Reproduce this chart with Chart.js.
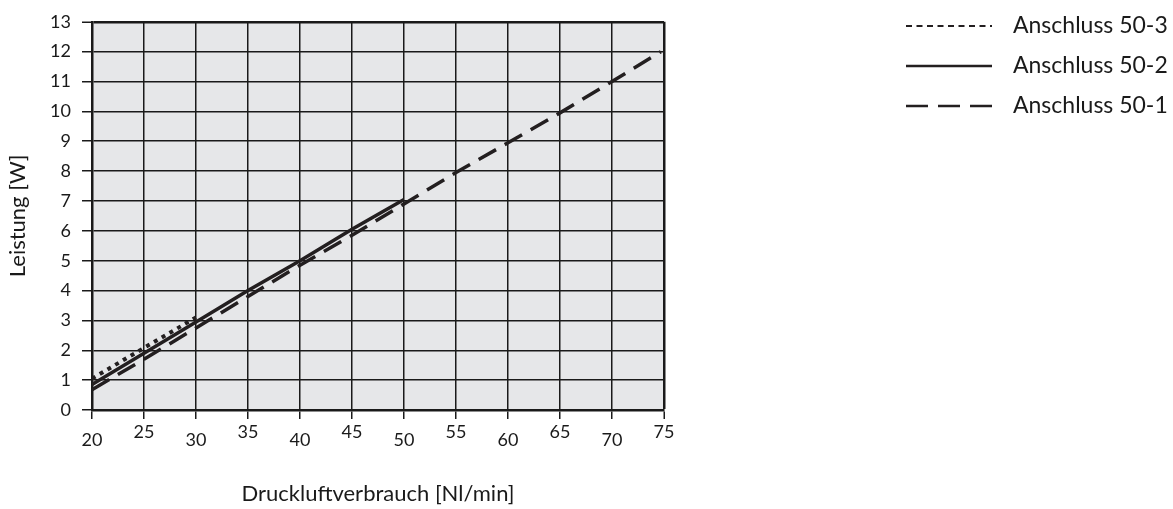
<!DOCTYPE html>
<html>
<head>
<meta charset="utf-8">
<script src="https://cdn.jsdelivr.net/npm/chart.js@4.4.1/dist/chart.umd.min.js"></script>
<style>
  html, body { margin: 0; padding: 0; background: #fff; }
  #wrap { width: 1173px; height: 509px; }
</style>
</head>
<body>
<div id="wrap"><canvas id="chart" width="1173" height="509"></canvas></div>
<script>
// axis ranges / ticks
const xMin = 20, xMax = 75, xStep = 5;
const yMin = 0, yMax = 13, yStep = 1;

// series
const seriesLabels = ['Anschluss 50-1', 'Anschluss 50-2', 'Anschluss 50-3'];
const x501 = [20, 25, 30, 35, 40, 45, 50, 55, 60, 65, 70, 74.7];
const y501 = [0.68, 1.7, 2.75, 3.8, 4.85, 5.85, 6.9, 7.95, 8.95, 9.95, 11.0, 12.0];
const x502 = [20, 25, 30, 35, 40, 45, 50];
const y502 = [0.85, 1.9, 2.95, 4.0, 5.0, 6.05, 7.05];
const x503 = [20, 25, 30];
const y503 = [1.05, 2.08, 3.1];

const xTitle = 'Druckluftverbrauch [Nl/min]';
const yTitle = 'Leistung [W]';

const ink = '#231f20';
const gridInk = '#1a1a1a';
const fontFamily = 'Lato, "Open Sans", sans-serif';

const toPoints = (xs, ys) => xs.map((x, i) => ({ x: x, y: ys[i] }));

// light grey plot background
const plotBg = {
  id: 'plotBg',
  beforeDraw(chart) {
    const { ctx, chartArea: a } = chart;
    ctx.save();
    ctx.fillStyle = '#e6e7e9';
    ctx.fillRect(a.left, a.top, a.right - a.left, a.bottom - a.top);
    ctx.restore();
  }
};

// legend on the right, listed 50-3 / 50-2 / 50-1
const sideLegend = {
  id: 'sideLegend',
  afterDraw(chart) {
    const ctx = chart.ctx;
    const sets = chart.data.datasets.slice().reverse();
    ctx.save();
    sets.forEach((ds, i) => {
      const y = 26 + i * 40;
      ctx.beginPath();
      ctx.strokeStyle = ink;
      ctx.lineWidth = ds.legendWidth;
      ctx.setLineDash(ds.legendDash);
      ctx.moveTo(906, y);
      ctx.lineTo(992, y);
      ctx.stroke();
      ctx.setLineDash([]);
      ctx.fillStyle = '#1a1a1a';
      ctx.font = '23px ' + fontFamily;
      ctx.textBaseline = 'middle';
      ctx.fillText(ds.label, 1013, y);
    });
    ctx.restore();
  }
};

new Chart(document.getElementById('chart'), {
  type: 'line',
  data: {
    datasets: [
      {
        label: seriesLabels[0],
        data: toPoints(x501, y501),
        borderColor: ink, borderWidth: 3.5, borderDash: [20, 10],
        pointRadius: 0, tension: 0,
        legendDash: [22, 10], legendWidth: 2.5
      },
      {
        label: seriesLabels[1],
        data: toPoints(x502, y502),
        borderColor: ink, borderWidth: 3.5,
        pointRadius: 0, tension: 0,
        legendDash: [], legendWidth: 2.5
      },
      {
        label: seriesLabels[2],
        data: toPoints(x503, y503),
        borderColor: ink, borderWidth: 4, borderDash: [4, 5],
        pointRadius: 0, tension: 0,
        legendDash: [6, 4.5], legendWidth: 2
      }
    ]
  },
  options: {
    responsive: false,
    animation: false,
    layout: { padding: { top: 14, right: 509, left: 0, bottom: 0 } },
    plugins: {
      legend: { display: false },
      tooltip: { enabled: false }
    },
    scales: {
      x: {
        type: 'linear',
        min: xMin, max: xMax,
        afterFit: s => { s.height = 99; },
        border: { display: true, color: gridInk, width: 2.5 },
        grid: {
          color: gridInk,
          lineWidth: c => (c.tick && c.tick.value === xMax ? 2.5 : 1.5),
          drawTicks: true,
          tickLength: 9,
          tickColor: gridInk,
          tickWidth: 1.5
        },
        ticks: {
          stepSize: xStep,
          autoSkip: false,
          maxRotation: 0,
          padding: 2,
          color: '#1a1a1a',
          // alternate labels sit a little lower
          font: c => ({
            family: fontFamily,
            size: 18,
            lineHeight: (c.tick && ((c.tick.value - xMin) / xStep) % 2 === 1) ? '22px' : '38px'
          })
        },
        title: {
          display: true,
          text: xTitle,
          color: '#1a1a1a',
          font: { family: fontFamily, size: 22 },
          padding: { top: 0, bottom: 2 }
        }
      },
      y: {
        type: 'linear',
        min: yMin, max: yMax,
        afterFit: s => { s.width = 92; },
        border: { display: true, color: gridInk, width: 2.5 },
        grid: {
          color: gridInk,
          lineWidth: c => (c.tick && c.tick.value === yMax ? 2.5 : 1.5),
          drawTicks: true,
          tickLength: 10,
          tickColor: gridInk,
          tickWidth: 1.5
        },
        ticks: {
          stepSize: yStep,
          autoSkip: false,
          padding: 11,
          color: '#1a1a1a',
          font: { family: fontFamily, size: 18 }
        },
        title: {
          display: true,
          text: yTitle,
          color: '#1a1a1a',
          font: { family: fontFamily, size: 22 },
          padding: { top: 5, bottom: 0 }
        }
      }
    }
  },
  plugins: [plotBg, sideLegend]
});
</script>
</body>
</html>
